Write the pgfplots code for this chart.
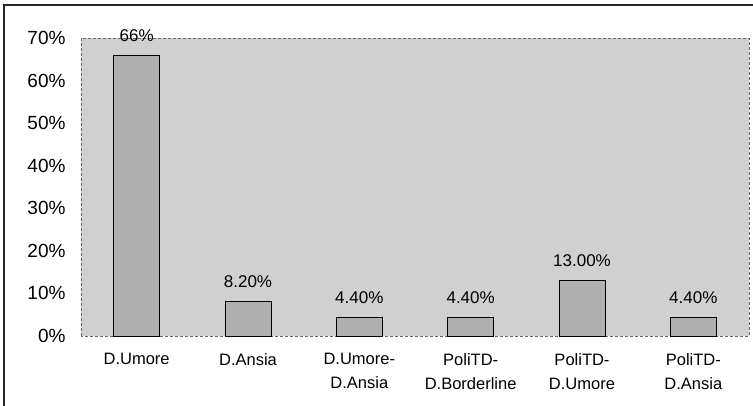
\documentclass[border=0pt]{standalone}
\usepackage{pgfplots}
\pgfplotsset{compat=1.18}
\usepackage{fontspec}
\setmainfont{Liberation Sans}
\definecolor{plotbg}{RGB}{208,208,208}
\definecolor{barfill}{RGB}{176,176,176}
\begin{document}
\begin{tikzpicture}[x=1pt,y=1pt]
\useasboundingbox (0,0) rectangle (753,406);
\draw[line width=1.2pt,black!85] (4,0) -- (4,401) -- (753,401);
\begin{axis}[
  at={(81pt,70pt)}, anchor=south west,
  scale only axis, width=668pt, height=298pt,
  xmin=-0.5, xmax=5.5, ymin=0, ymax=70,
  axis background/.style={fill=plotbg},
  axis line style={draw=black!60, line width=0.5pt, densely dashed},
  ytick={0,10,...,70},
  yticklabel={\pgfmathprintnumber{\tick}\%},
  /pgf/number format/assume math mode=true,
  xtick=data,
  xticklabels={D.Umore, D.Ansia, {D.Umore-\\D.Ansia}, {PoliTD-\\D.Borderline}, {PoliTD-\\D.Umore}, {PoliTD-\\D.Ansia}},
  xticklabel style={align=center, font=\fontsize{16.5}{24}\selectfont, yshift=-14pt},
  yticklabel style={font=\fontsize{19}{22}\selectfont, xshift=-12pt},
  major tick length=0pt,
  ybar, bar width=46pt,
  nodes near coords,
  point meta=explicit symbolic,
  every node near coord/.append style={font=\fontsize{17}{20}\selectfont, yshift=10pt},
  clip=false,
]
\addplot[fill=barfill, draw=black, line width=0.8pt] coordinates {
  (0,66) [66\%]
  (1,8.2) [8.20\%]
  (2,4.4) [4.40\%]
  (3,4.4) [4.40\%]
  (4,13.0) [13.00\%]
  (5,4.4) [4.40\%]
};
\end{axis}
\end{tikzpicture}
\end{document}
